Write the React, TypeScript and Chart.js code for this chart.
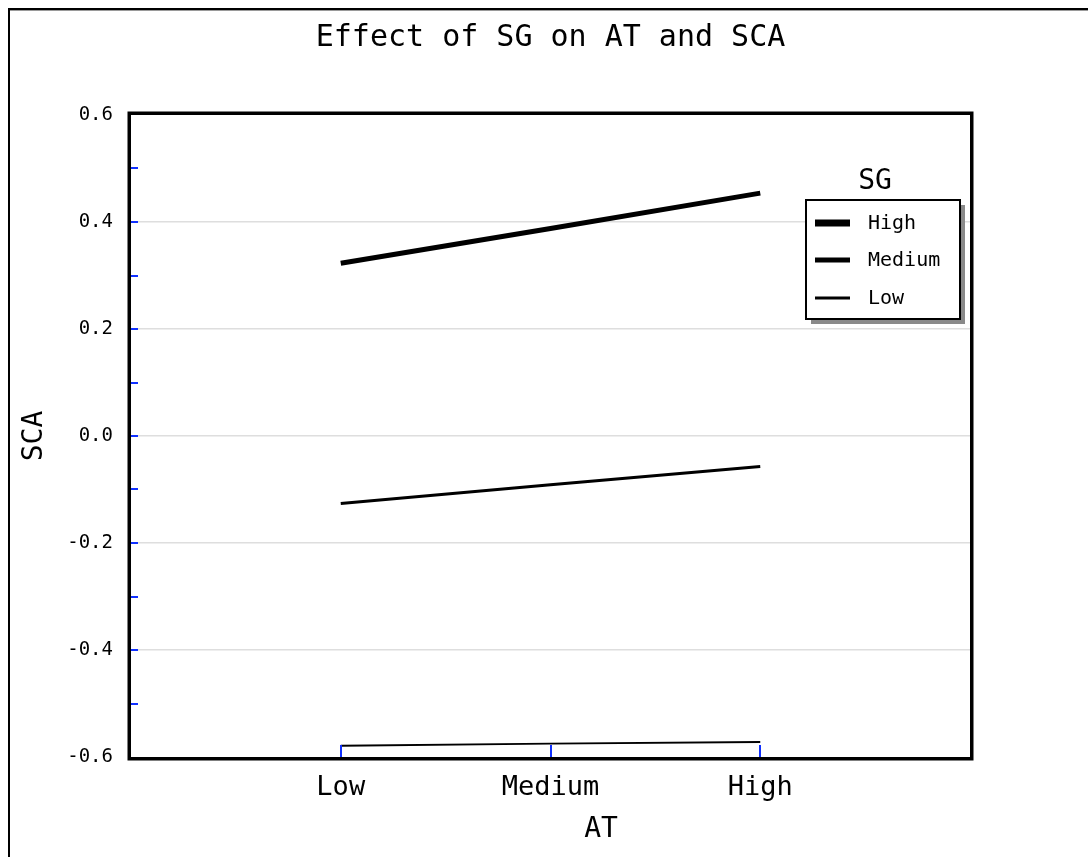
import { useEffect, useRef } from 'react';
import { Chart, registerables } from 'chart.js';

Chart.register(...registerables);

const chartTitle = 'Effect of SG on AT and SCA';
const xTitle = 'AT';
const yTitle = 'SCA';
const legendTitle = 'SG';
const atLevels = ['Low', 'Medium', 'High'];
const sgLevels = ['High', 'Medium', 'Low'];
const sgHigh = [0.323, 0.388, 0.454];
const sgMedium = [-0.126, -0.091, -0.057];
const sgLow = [-0.579, -0.575, -0.572];
const yTickValues = [-0.6, -0.4, -0.2, 0.0, 0.2, 0.4, 0.6];
const yMinorTicks = [-0.5, -0.4, -0.3, -0.2, -0.1, 0.0, 0.1, 0.2, 0.3, 0.4, 0.5];

const FONT = '"DejaVu Sans Mono", "Liberation Mono", monospace';
const W = 1080;
const H = 849;

const lineWidths = [5, 3, 2];
const legendWidths = [7, 5, 3];

const decorPlugin = {
  id: 'decor',
  beforeDraw(chart: any) {
    const ctx = chart.ctx;
    ctx.save();
    ctx.fillStyle = '#ffffff';
    ctx.fillRect(0, 0, chart.width, chart.height);
    ctx.fillStyle = '#000000';
    ctx.fillRect(0, 0, chart.width, 2);
    ctx.fillStyle = '#9a9a9a';
    ctx.fillRect(2, 2, chart.width, 1);
    ctx.fillStyle = '#000000';
    ctx.fillRect(0, 0, 2, chart.height);
    ctx.restore();
  },
  afterDatasetsDraw(chart: any) {
    const { ctx, chartArea: a, scales } = chart;
    const x = scales.x;
    const y = scales.y;
    ctx.save();
    ctx.strokeStyle = '#1030ff';
    ctx.lineWidth = 2;
    yMinorTicks.forEach((v) => {
      const py = Math.round(y.getPixelForValue(v));
      ctx.beginPath();
      ctx.moveTo(a.left, py);
      ctx.lineTo(a.left + 7, py);
      ctx.stroke();
    });
    atLevels.forEach((_, i) => {
      const px = Math.round(x.getPixelForValue(i));
      ctx.beginPath();
      ctx.moveTo(px, a.bottom);
      ctx.lineTo(px, a.bottom - 12);
      ctx.stroke();
    });
    ctx.strokeStyle = '#000000';
    ctx.lineWidth = 3.5;
    ctx.strokeRect(a.left - 1.75, a.top - 1.75, a.right - a.left + 3.5, a.bottom - a.top + 3.5);
    ctx.restore();
  },
  afterDraw(chart: any) {
    const ctx = chart.ctx;
    ctx.save();
    // x-axis title
    ctx.fillStyle = '#000000';
    ctx.font = `28px ${FONT}`;
    ctx.textAlign = 'center';
    ctx.textBaseline = 'middle';
    ctx.fillText(xTitle, 593, 822);
    // legend
    const bx = 798;
    const by = 192;
    const bw = 154;
    const bh = 119;
    ctx.fillStyle = '#8a8a8a';
    ctx.fillRect(bx + 5, by + 5, bw, bh);
    ctx.fillStyle = '#ffffff';
    ctx.fillRect(bx, by, bw, bh);
    ctx.strokeStyle = '#000000';
    ctx.lineWidth = 2;
    ctx.strokeRect(bx, by, bw, bh);
    ctx.fillStyle = '#000000';
    ctx.font = `28px ${FONT}`;
    ctx.fillText(legendTitle, 867, 174);
    ctx.font = `20px ${FONT}`;
    ctx.textAlign = 'left';
    const rows = [215, 252, 290];
    chart.data.datasets.forEach((ds: any, i: number) => {
      const ry = rows[i];
      ctx.lineWidth = legendWidths[i];
      ctx.beginPath();
      ctx.moveTo(807, ry);
      ctx.lineTo(842, ry);
      ctx.stroke();
      ctx.fillText(ds.label, 860, ry + 1);
    });
    ctx.restore();
  },
};

export default function App() {
  const ref = useRef<HTMLCanvasElement | null>(null);
  useEffect(() => {
    if (!ref.current) return;
    const series = [sgHigh, sgMedium, sgLow];
    const chart = new Chart(ref.current, {
      type: 'line',
      data: {
        datasets: sgLevels.map((lvl, i) => ({
          label: lvl,
          data: atLevels.map((_, j) => ({ x: j, y: series[i][j] })),
          borderColor: '#000000',
          backgroundColor: '#000000',
          borderWidth: lineWidths[i],
          pointRadius: 0,
          tension: 0,
          borderCapStyle: 'butt',
        })),
      },
      options: {
        animation: false,
        responsive: false,
        devicePixelRatio: 1,
        color: '#000000',
        layout: { padding: { top: 0, left: 0, right: 118, bottom: 0 } },
        plugins: {
          legend: { display: false },
          tooltip: { enabled: false },
          title: {
            display: true,
            fullSize: false,
            text: chartTitle,
            color: '#000000',
            font: { family: FONT, size: 30, weight: 'normal' },
            padding: { top: 12, bottom: 59 },
          },
        },
        scales: {
          x: {
            type: 'linear',
            min: -1,
            max: 3,
            afterBuildTicks: (s: any) => {
              s.ticks = atLevels.map((_, i) => ({ value: i }));
            },
            afterFit: (s: any) => {
              s.height = 100;
            },
            grid: { display: false, drawTicks: false },
            border: { display: false },
            ticks: {
              color: '#000000',
              padding: 15,
              maxRotation: 0,
              autoSkip: false,
              font: { family: FONT, size: 27 },
              callback: (v: any) => atLevels[Math.round(Number(v))] ?? '',
            },
            title: { display: false },
          },
          y: {
            type: 'linear',
            min: -0.6,
            max: 0.6,
            afterBuildTicks: (s: any) => {
              s.ticks = yTickValues.map((v) => ({ value: v }));
            },
            afterFit: (s: any) => {
              s.width = 123;
            },
            grid: {
              drawTicks: false,
              lineWidth: 1.5,
              color: (c: any) =>
                c.tick && Math.abs(Math.abs(c.tick.value) - 0.6) < 1e-6 ? 'rgba(0,0,0,0)' : '#dedede',
            },
            border: { display: false },
            ticks: {
              color: '#000000',
              padding: 18,
              font: { family: FONT, size: 19 },
              callback: (v: any) => Number(v).toFixed(1),
            },
            title: {
              display: true,
              text: yTitle,
              color: '#000000',
              font: { family: FONT, size: 28 },
              padding: { top: 10, bottom: 0 },
            },
          },
        },
      },
      plugins: [decorPlugin],
    } as any);
    return () => chart.destroy();
  }, []);

  return (
    <div style={{ position: 'fixed', left: 8, top: 8, width: W, height: H, overflow: 'hidden' }}>
      <canvas ref={ref} width={W} height={H} style={{ width: W, height: H, display: 'block' }} />
    </div>
  );
}
